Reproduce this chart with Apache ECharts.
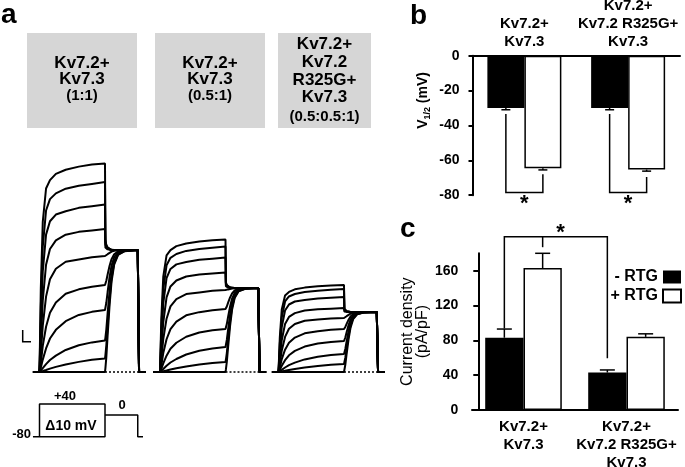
<!DOCTYPE html>
<html><head><meta charset="utf-8">
<script src="https://cdn.jsdelivr.net/npm/echarts@6/dist/echarts.min.js"></script>
<style>html,body{margin:0;padding:0;background:#fff}#c{width:685px;height:467px}</style>
</head><body><div id="c"></div>
<script>
// ---------- Panel b : V1/2 ----------
const groups = ['Kv7.2+\nKv7.3', 'Kv7.2+\nKv7.2 R325G+\nKv7.3'];
const seriesNames = ['- RTG', '+ RTG'];
const v12Minus = [-30, -30];
const v12MinusErr = [1.0, 1.0];
const v12Plus = [-64.5, -65.3];
const v12PlusErr = [1.0, 0.9];
const v12Ticks = [0, -20, -40, -60, -80];
// [group, left end, bracket bottom, right end]
const v12Brackets = [[0, -33.5, -78.5, -68], [1, -33.5, -78.5, -69.5]];

// ---------- Panel c : current density ----------
const densMinus = [83, 43];
const densMinusErr = [10, 3];
const densPlus = [163, 84];
const densPlusErr = [17, 3.5];
const densTicks = [0, 40, 80, 120, 160];
const densBracket = {top: 199, left: 93.5, mid: 187, right: 59.5};

// ---------- Panel a : current traces ----------
const boxLabels = [
  ['Kv7.2+', 'Kv7.3', '(1:1)'],
  ['Kv7.2+', 'Kv7.3', '(0.5:1)'],
  ['Kv7.2+', 'Kv7.2', 'R325G+', 'Kv7.3', '(0.5:0.5:1)']
];
const stepVoltages = [40, 30, 20, 10, 0, -10, -20, -30, -40, -50];
const steady11  = [208.5, 190, 167.5, 143, 116, 87, 62, 31.5, 13.5, 0];
const steady051 = [132.5, 125.5, 114.5, 99.5, 82, 63, 43, 25, 10, 0];
const steadyMut = [87, 83, 75, 64, 54, 43, 31, 18, 8, 0];
const tail11 = 122, tail051 = 84, tailMut = 60;
const rec = {start: -0.1, stepEnd: 1.0, tailEnd: 1.52, end: 1.62};
const riseTimes = [0, 0.02, 0.05, 0.1, 0.16, 0.25, 0.4, 0.6, 0.8, 1.0];
const riseFrac = [
  [0, 0.40, 0.72, 0.88, 0.92, 0.95, 0.97, 0.985, 0.995, 1],
  [0, 0.34, 0.66, 0.85, 0.91, 0.94, 0.965, 0.98, 0.99, 1],
  [0, 0.28, 0.60, 0.82, 0.90, 0.94, 0.96, 0.98, 0.99, 1],
  [0, 0.22, 0.50, 0.75, 0.86, 0.92, 0.96, 0.98, 0.99, 1],
  [0, 0.16, 0.40, 0.65, 0.80, 0.89, 0.95, 0.97, 0.99, 1],
  [0, 0.10, 0.30, 0.52, 0.68, 0.80, 0.90, 0.95, 0.98, 1],
  [0, 0.07, 0.20, 0.38, 0.54, 0.68, 0.82, 0.92, 0.97, 1],
  [0, 0.04, 0.12, 0.25, 0.38, 0.52, 0.70, 0.85, 0.94, 1],
  [0, 0.02, 0.07, 0.15, 0.25, 0.38, 0.56, 0.75, 0.90, 1],
  [0, 0, 0, 0, 0, 0, 0, 0, 0, 0]
];
const tailTimes = [0, 0.006, 0.02, 0.04, 0.07, 0.1, 0.14, 0.2, 0.3, 0.5];
const tailFracDown = [0, 0.88, 0.94, 0.97, 0.99, 1, 1, 1, 1, 1];
const tailFracUp   = [0, 0.03, 0.12, 0.3, 0.55, 0.74, 0.88, 0.96, 0.99, 1];
// voltage protocol (mV vs s)
const protocolBox  = [[-0.1, -80], [1.0, -80], [1.0, 40], [0, 40], [0, -80]];
const protocolTail = [[1.0, 0], [1.5, 0], [1.5, -80], [1.58, -80]];

// ================= build =================
const FONT = '"Liberation Sans", Arial, Helvetica, sans-serif';
const BLACK = '#000';
const pxPerSec = 65.5;
const traceT0 = [39.5, 160, 278.5];
const traceSets = [
  {steady: steady11, tail: tail11},
  {steady: steady051, tail: tail051},
  {steady: steadyMut, tail: tailMut}
];
function buildTrace(steady, tail, row) {
  const pts = [[rec.start, 0]];
  riseTimes.forEach((t, i) => pts.push([t, steady * riseFrac[row][i]]));
  const f = steady > tail ? tailFracDown : tailFracUp;
  tailTimes.forEach((t, i) => pts.push([rec.stepEnd + t, steady + (tail - steady) * f[i]]));
  pts.push([rec.tailEnd, tail], [rec.tailEnd, 0], [rec.end, 0]);
  return pts;
}

const grids = [
  {left: 472.5, top: 55.7, right: 5, bottom: 271.8, outerBoundsMode: 'none'},
  {left: 472, top: 253.3, right: 7, bottom: 57, outerBoundsMode: 'none'}
];
const traceW = (1.63 - rec.start) * pxPerSec;
traceT0.forEach(t0 => grids.push({left: t0 + rec.start * pxPerSec, width: traceW, top: 163.3, bottom: 95, outerBoundsMode: 'none'}));
grids.push({left: traceT0[0] + rec.start * pxPerSec, width: traceW, top: 404, height: 32.7, outerBoundsMode: 'none'});

const axLine = {show: true, onZero: false, lineStyle: {color: BLACK, width: 2}};
const xAxes = [
  {type: 'category', gridIndex: 0, data: groups, position: 'top', axisLine: axLine,
   axisTick: {show: false},
   axisLabel: {interval: 0, margin: 5, color: BLACK, fontFamily: FONT, fontWeight: 'bold', fontSize: 15, lineHeight: 18}},
  {type: 'category', gridIndex: 1, data: groups, position: 'bottom', axisLine: axLine,
   axisTick: {show: false},
   axisLabel: {interval: 0, margin: 8, color: BLACK, fontFamily: FONT, fontWeight: 'bold', fontSize: 15, lineHeight: 18}}
];
const yAxes = [
  {type: 'value', gridIndex: 0, min: -80, max: 0, interval: 20, axisLine: axLine,
   axisTick: {show: true, length: 4, lineStyle: {color: BLACK, width: 2}},
   axisLabel: {margin: 13, color: BLACK, fontFamily: FONT, fontWeight: 'bold', fontSize: 14},
   splitLine: {show: false},
   name: '{v|V}{s|1/2}{v| (mV)}', nameLocation: 'middle', nameRotate: 90, nameGap: 40,
   nameTextStyle: {color: BLACK, fontFamily: FONT, fontWeight: 'bold', fontSize: 14, padding: [0, 0, 0, 50],
     rich: {v: {fontFamily: FONT, fontWeight: 'bold', fontSize: 14, color: BLACK, lineHeight: 18},
            s: {fontFamily: FONT, fontWeight: 'bold', fontSize: 9, color: BLACK, lineHeight: 10, verticalAlign: 'bottom'}}}},
  {type: 'value', gridIndex: 1, min: 0, max: 180, interval: 40, offset: -6.3, axisLine: axLine,
   axisTick: {show: true, length: 5, customValues: densTicks, lineStyle: {color: BLACK, width: 2}},
   axisLabel: {margin: 20, customValues: densTicks, color: BLACK, fontFamily: FONT, fontWeight: 'bold', fontSize: 14},
   splitLine: {show: false},
   name: 'Current density\n(pA/pF)', nameLocation: 'middle', nameRotate: 90, nameGap: 48,
   nameTextStyle: {color: BLACK, fontFamily: FONT, fontWeight: 'normal', fontSize: 16, lineHeight: 15}}
];
for (let k = 0; k < 4; k++) {
  const gi = 2 + k;
  xAxes.push({type: 'value', gridIndex: gi, min: rec.start, max: 1.63, show: false});
  if (k < 3) yAxes.push({type: 'value', gridIndex: gi, min: 0, max: 208.7, show: false});
  else yAxes.push({type: 'value', gridIndex: gi, min: -80, max: 40, show: false});
}

const series = [];
series.push({name: seriesNames[0], type: 'bar', xAxisIndex: 0, yAxisIndex: 0, data: v12Minus,
  barWidth: 37, barGap: '0%', itemStyle: {color: BLACK}});
series.push({name: seriesNames[1], type: 'bar', xAxisIndex: 0, yAxisIndex: 0, data: v12Plus,
  barWidth: 37, barGap: '0%', itemStyle: {color: '#fff', borderColor: BLACK, borderWidth: 1.5}});
series.push({name: seriesNames[0], type: 'bar', xAxisIndex: 1, yAxisIndex: 1, data: densMinus,
  barWidth: 38.3, barGap: '0%', itemStyle: {color: BLACK}});
series.push({name: seriesNames[1], type: 'bar', xAxisIndex: 1, yAxisIndex: 1, data: densPlus,
  barWidth: 38.3, barGap: '0%', itemStyle: {color: '#fff', borderColor: BLACK, borderWidth: 1.5}});

function errRender(barW, capW) {
  return function (params, api) {
    const g = api.value(0), side = api.value(1), m = api.value(2), e = api.value(3);
    const dir = m < 0 ? -1 : 1;
    const p0 = api.coord([g, m]), p1 = api.coord([g, m + dir * e]);
    const x = p0[0] + (side ? barW / 2 : -barW / 2);
    const st = {stroke: BLACK, lineWidth: 1.5};
    return {type: 'group', children: [
      {type: 'line', shape: {x1: x, y1: p0[1], x2: x, y2: p1[1]}, style: st},
      {type: 'line', shape: {x1: x - capW / 2, y1: p1[1], x2: x + capW / 2, y2: p1[1]}, style: st}
    ]};
  };
}
const bErr = [], cErr = [];
v12Minus.forEach((m, i) => bErr.push([i, 0, m, v12MinusErr[i]]));
v12Plus.forEach((m, i) => bErr.push([i, 1, m, v12PlusErr[i]]));
densMinus.forEach((m, i) => cErr.push([i, 0, m, densMinusErr[i]]));
densPlus.forEach((m, i) => cErr.push([i, 1, m, densPlusErr[i]]));
series.push({type: 'custom', xAxisIndex: 0, yAxisIndex: 0, z: 5, data: bErr, encode: {x: 0, y: 2},
  renderItem: errRender(37, 9)});
series.push({type: 'custom', xAxisIndex: 1, yAxisIndex: 1, z: 5, data: cErr, encode: {x: 0, y: 2},
  renderItem: errRender(38.3, 15)});

const starStyle = {text: '*', fill: BLACK, fontFamily: FONT, fontWeight: 'bold', fontSize: 22, align: 'center', verticalAlign: 'middle'};
series.push({type: 'custom', xAxisIndex: 0, yAxisIndex: 0, z: 6, data: v12Brackets, encode: {x: 0, y: 2},
  renderItem: function (params, api) {
    const g = api.value(0);
    const pl = api.coord([g, api.value(1)]), pb = api.coord([g, api.value(2)]), pr = api.coord([g, api.value(3)]);
    const xl = pl[0] - 37 / 2, xr = pl[0] + 37 / 2;
    return {type: 'group', children: [
      {type: 'polyline', shape: {points: [[xl, pl[1]], [xl, pb[1]], [xr, pb[1]], [xr, pr[1]]]},
       style: {stroke: BLACK, lineWidth: 1.5, fill: null}},
      {type: 'text', x: (xl + xr) / 2, y: pb[1] + 11, style: starStyle}
    ]};
  }});
series.push({type: 'custom', xAxisIndex: 1, yAxisIndex: 1, z: 6, data: [[0, densBracket.top]], encode: {x: 0, y: 1},
  renderItem: function (params, api) {
    const bw = 38.3;
    const c0 = api.coord([0, densBracket.top]), c1 = api.coord([1, densBracket.top]);
    const xl = c0[0] - bw / 2, xm = c0[0] + bw / 2, xr = c1[0] - bw / 2;
    const yt = c0[1];
    const yl = api.coord([0, densBracket.left])[1], ym = api.coord([0, densBracket.mid])[1], yr = api.coord([1, densBracket.right])[1];
    const st = {stroke: BLACK, lineWidth: 1.5, fill: null};
    return {type: 'group', children: [
      {type: 'polyline', shape: {points: [[xl, yl], [xl, yt], [xr, yt], [xr, yr]]}, style: st},
      {type: 'line', shape: {x1: xm, y1: yt, x2: xm, y2: ym}, style: st},
      {type: 'text', x: xm + 18, y: yt - 4, style: starStyle}
    ]};
  }});

traceSets.forEach((set, k) => {
  set.steady.forEach((s, row) => {
    series.push({type: 'line', xAxisIndex: 2 + k, yAxisIndex: 2 + k, data: buildTrace(s, set.tail, row),
      symbol: 'none', clip: false, silent: true, lineStyle: {color: BLACK, width: 2}, z: 3});
  });
  series.push({type: 'line', xAxisIndex: 2 + k, yAxisIndex: 2 + k, data: [[rec.stepEnd, 0], [rec.tailEnd, 0]],
    symbol: 'none', clip: false, silent: true, lineStyle: {color: BLACK, width: 1.5, type: [2, 2]}, z: 2});
});
[protocolBox, protocolTail].forEach(d => series.push({type: 'line', xAxisIndex: 5, yAxisIndex: 5, data: d,
  symbol: 'none', clip: false, silent: true, lineStyle: {color: BLACK, width: 1.5}}));

const txt = (x, y, text, size, opts) => Object.assign({type: 'text', x: x, y: y, silent: true,
  style: Object.assign({text: text, fill: BLACK, fontFamily: FONT, fontWeight: 'bold', fontSize: size, align: 'center', verticalAlign: 'middle'}, opts || {})});
const graphic = [];
graphic.push(txt(1, 15.6, 'a', 28, {align: 'left'}));
graphic.push(txt(410, 16, 'b', 28, {align: 'left'}));
graphic.push(txt(400, 229.5, 'c', 28, {align: 'left'}));
const boxes = [{x: 27, w: 110, cx: 82, ys: [63.7, 79.7, 96.3]},
               {x: 155, w: 110, cx: 210, ys: [63.7, 79.7, 96.3]},
               {x: 278, w: 93, cx: 324.5, ys: [44, 62.3, 80, 97.7, 117.3]}];
boxes.forEach((b, i) => {
  graphic.push({type: 'rect', silent: true, shape: {x: b.x, y: 33, width: b.w, height: 95}, style: {fill: '#d6d6d6'}, z: -1});
  boxLabels[i].forEach((t, j) => {
    const last = j === boxLabels[i].length - 1;
    graphic.push(txt(b.cx, b.ys[j], t, last ? 15 : 17));
  });
});
graphic.push({type: 'polyline', silent: true, shape: {points: [[22.7, 330], [22.7, 341.7], [31, 341.7]]}, style: {stroke: BLACK, lineWidth: 1.5, fill: null}});
graphic.push(txt(65, 396, '+40', 13));
graphic.push(txt(122, 405.5, '0', 13));
graphic.push(txt(71, 426, 'Δ10 mV', 14));
graphic.push(txt(31, 434, '-80', 13, {align: 'right'}));

const chart = echarts.init(document.getElementById('c'), null, {renderer: 'canvas'});
chart.setOption({
  animation: false,
  backgroundColor: '#fff',
  textStyle: {fontFamily: FONT},
  grid: grids, xAxis: xAxes, yAxis: yAxes, series: series, graphic: graphic,
  legend: {orient: 'vertical', right: 3, top: 269, align: 'right', itemWidth: 18, itemHeight: 13, itemGap: 3,
    padding: 0, icon: 'rect', selectedMode: false, data: seriesNames,
    textStyle: {color: BLACK, fontFamily: FONT, fontWeight: 'bold', fontSize: 16}}
});
</script></body></html>
